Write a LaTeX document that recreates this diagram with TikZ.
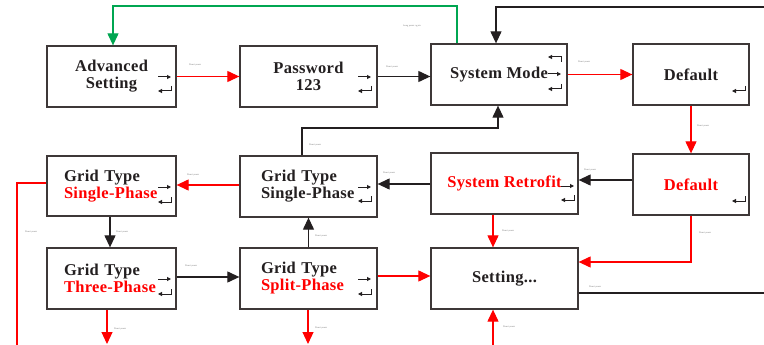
\documentclass[tikz,border=0pt]{standalone}
\usepackage{fontspec}
\setmainfont{Liberation Serif}
\newfontfamily\boxfont[LetterSpace=2]{Liberation Serif}
\usetikzlibrary{arrows.meta,calc}
\definecolor{boxline}{HTML}{3E3838}
\definecolor{ink}{HTML}{231F20}
\definecolor{grn}{HTML}{00A651}
\definecolor{rd}{HTML}{FF0000}
\definecolor{lblgray}{HTML}{8A8A8A}
\tikzset{
  box/.style={draw=boxline, line width=1.3pt, rectangle, inner sep=0pt,
    font=\boxfont\bfseries\fontsize{16.5}{17}\selectfont, text=ink, align=center},
  gboxl/.style={box, align=left, text width=95pt, inner xsep=17pt},
  gboxm/.style={box, align=left, text width=95pt, inner xsep=21pt},
  conn/.style={line width=1.15pt, -{Triangle[length=12pt,width=11pt]}},
  blkarr/.style={conn, draw=ink},
  redarr/.style={conn, draw=rd},
  grnarr/.style={conn, draw=grn},
  redline/.style={line width=1.15pt, draw=rd},
  blkline/.style={line width=1.15pt, draw=ink},
  icon/.style={line width=1pt, draw=ink, -{Triangle[length=4pt,width=4pt]}},
  lbl/.style={font=\fontsize{2.4}{3}\selectfont\sffamily, text=lblgray, inner sep=0pt}
}
\newcommand{\rarr}[2]{\draw[icon] (#1,#2) -- ++(13,0);}
\newcommand{\entr}[2]{\draw[icon] (#1,#2) ++(13,-5) -- ++(0,5) -- ++(-13,0);}
\newcommand{\bckr}[2]{\draw[icon] (#1,#2) ++(13,5) -- ++(0,-5) -- ++(-13,0);}
\begin{document}
\begin{tikzpicture}[x=1pt,y=-1pt]
\useasboundingbox (0,0) rectangle (764,345);
\fill[white] (0,0) rectangle (764,345);

% boxes
\node[box, minimum width=129pt, minimum height=61pt] (adv) at (111.5,76.5) {Advanced\\Setting};
\node[box, minimum width=137pt, minimum height=61pt] (pw) at (308.5,76.5) {Password\\123};
\node[box, minimum width=136pt, minimum height=61pt] (sm) at (499,74.5) {System Mode};
\node[box, minimum width=116pt, minimum height=61pt] (df) at (691,74.5) {Default};

\node[gboxl, minimum height=60pt] (gsr) at (111.5,186) {Grid Type\\\textcolor{rd}{Single-Phase}};
\node[gboxm, minimum height=61pt] (gsb) at (308.5,186.5) {Grid Type\\Single-Phase};
\node[box, minimum width=147pt, minimum height=61pt, text=rd] (sr) at (504.5,183.5) {System Retrofit};
\node[box, minimum width=116pt, minimum height=61pt, text=rd] (dr) at (691,184.5) {Default};

\node[gboxl, minimum height=61pt] (tp) at (111.5,278.5) {Grid Type\\\textcolor{rd}{Three-Phase}};
\node[gboxm, minimum height=61pt] (sp) at (308.5,278.5) {Grid Type\\\textcolor{rd}{Split-Phase}};
\node[box, minimum width=147pt, minimum height=61pt] (st) at (504.5,278.5) {Setting...};

% icons
\rarr{158}{77}\entr{158}{91}
\rarr{358}{77}\entr{358}{91}
\bckr{548}{57}\rarr{548}{74}\entr{548}{89}
\entr{732}{91}
\rarr{158}{187}\entr{158}{202}
\rarr{358}{187}\entr{358}{201}
\rarr{561}{186}\entr{561}{200}
\entr{732}{201}
\rarr{158}{279}\entr{158}{294}
\rarr{358}{279}\entr{358}{294}

% routing coordinates
\coordinate (g1) at (457,6);
\coordinate (g2) at (113,6);
\coordinate (t1) at (764,7);
\coordinate (t2) at (496,7);
\coordinate (c7) at (0,180);
\coordinate (c8) at (0,184);
\coordinate (c9) at (0,185);
\coordinate (u1) at (302,128);
\coordinate (u2) at (498,128);
\coordinate (l1) at (17,183);
\coordinate (l2) at (17,345);
\coordinate (c12) at (110,0);
\coordinate (c13) at (0,277);
\coordinate (c15) at (0,276);
\coordinate (c16) at (493,0);
\coordinate (c17) at (0,262);
\coordinate (c18) at (0,293);
\coordinate (e18) at (764,293);
\coordinate (b19) at (493,345);
\coordinate (c20) at (107,344);
\coordinate (c21) at (308,344);

% connectors
\draw[redarr] (adv.east) -- (pw.west);
\draw[blkarr] (pw.east) -- (pw.east -| sm.west);
\draw[redarr] (sm.east) -- (df.west);
\draw[grnarr] (sm.north -| g1) |- (g2) -- (adv.north -| g2);
\draw[blkarr] (t1) -- (t2) -- (sm.north -| t2);
\draw[redarr] (df.south) -- (dr.north);
\draw[blkarr] (dr.west |- c7) -- (sr.east |- c7);
\draw[blkarr] (sr.west |- c8) -- (gsb.east |- c8);
\draw[redarr] (gsb.west |- c9) -- (gsr.east |- c9);
\draw[blkarr] (gsb.north -| u1) |- (u2) -- (sm.south -| u2);
\draw[redline] (gsr.west |- l1) -- (l1) -- (l2);
\draw[blkarr] (gsr.south -| c12) -- (tp.north -| c12);
\draw[blkarr] (tp.east |- c13) -- (sp.west |- c13);
\draw[blkarr] (sp.north) -- (gsb.south);
\draw[redarr] (sp.east |- c15) -- (st.west |- c15);
\draw[redarr] (sr.south -| c16) -- (st.north -| c16);
\draw[redarr] (dr.south) |- (st.east |- c17);
\draw[blkline] (st.east |- c18) -- (e18);
\draw[redarr] (b19) -- (st.south -| b19);
\draw[redarr] (tp.south -| c20) -- (c20);
\draw[redarr] (sp.south -| c21) -- (c21);

% tiny labels
\node[lbl] (n1) at (195,65) {Short press};
\node[lbl] (n2) at (412,26) {Long press again};
\node[lbl] (n3) at (392,67) {Short press};
\node[lbl] (n4) at (584,62) {Short press};
\node[lbl] (n5) at (703,126) {Short press};
\node[lbl] (n6) at (590,170) {Short press};
\node[lbl] (n7) at (389,173) {Short press};
\node[lbl] (n8) at (193,175) {Short press};
\node[lbl] (n9) at (315,145) {Short press};
\node[lbl] (n10) at (31,232) {Short press};
\node[lbl] (n11) at (122,232) {Short press};
\node[lbl] (n12) at (191,266) {Short press};
\node[lbl] (n13) at (321,236) {Short press};
\node[lbl] (n14) at (508,231) {Short press};
\node[lbl] (n15) at (705,233) {Short press};
\node[lbl] (n16) at (595,287) {Short press};
\node[lbl] (n17) at (509,327) {Short press};
\node[lbl] (n18) at (120,329) {Short press};
\node[lbl] (n19) at (321,328) {Short press};
\end{tikzpicture}
\end{document}
